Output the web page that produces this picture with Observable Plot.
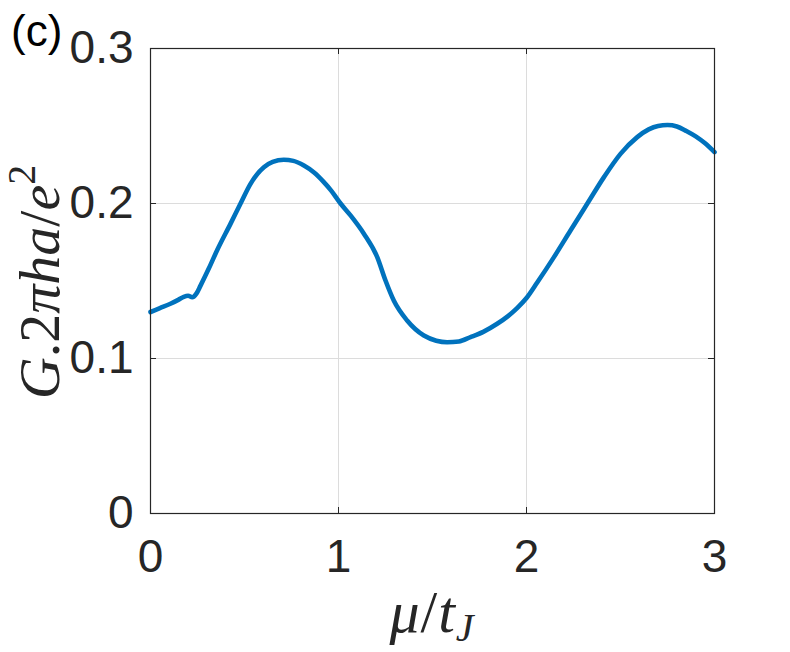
<!DOCTYPE html>
<html>
<head>
<meta charset="utf-8">
<script src="https://cdn.jsdelivr.net/npm/d3@7"></script>
<script src="https://cdn.jsdelivr.net/npm/@observablehq/plot@0.6"></script>
<style>
  html, body { margin: 0; padding: 0; background: #fff; }
  #chart { position: relative; width: 790px; height: 652px; }
</style>
</head>
<body>
<div id="chart"></div>
<script>
// Data (mu/t_J vs G.2πha/e^2)
const mu = [0.00, 0.05, 0.106, 0.15, 0.177, 0.20, 0.222, 0.245, 0.266, 0.31, 0.355, 0.426, 0.479, 0.532, 0.603, 0.65, 0.709, 0.76, 0.816, 0.87, 0.922, 0.96, 1.011, 1.064, 1.135, 1.206, 1.25, 1.294, 1.365, 1.454, 1.52, 1.578, 1.64, 1.702, 1.77, 1.844, 1.90, 1.95, 2.00, 2.057, 2.146, 2.234, 2.323, 2.412, 2.50, 2.589, 2.65, 2.70, 2.75, 2.80, 2.85, 2.90, 2.95, 3.00];
const G  = [0.130, 0.1325, 0.1353, 0.1380, 0.1398, 0.1405, 0.1395, 0.1420, 0.147, 0.158, 0.170, 0.187, 0.200, 0.2127, 0.2234, 0.2268, 0.2282, 0.2275, 0.2245, 0.2200, 0.2138, 0.2085, 0.2000, 0.1923, 0.1805, 0.1654, 0.1503, 0.1374, 0.1245, 0.1148, 0.1115, 0.1105, 0.1110, 0.1138, 0.1172, 0.1224, 0.1272, 0.1325, 0.1390, 0.1490, 0.1654, 0.1826, 0.1998, 0.2170, 0.2320, 0.2428, 0.2478, 0.2500, 0.2506, 0.2497, 0.2468, 0.2433, 0.2388, 0.2331];
const xTicks = [0, 1, 2, 3];
const yTicks = [0, 0.1, 0.2, 0.3];
const yTickLabels = ["0", "0.1", "0.2", "0.3"];
const panelLabel = "(c)";

const data = mu.map((m, i) => ({mu: m, G: G[i]}));

const W = 790, H = 652;
const mL = 150, mR = 76, mT = 48, mB = 139;
const plotH = H - mT - mB;
const plotW = W - mL - mR;
const ink = "#262626";
const tickLen = 6;

const chart = Plot.plot({
  width: W,
  height: H,
  marginLeft: mL,
  marginRight: mR,
  marginTop: mT,
  marginBottom: mB,
  style: {fontFamily: "'Liberation Sans', Arial, sans-serif", fontSize: "46px", color: ink, background: "#fff", overflow: "visible"},
  x: {domain: [0, 3]},
  y: {domain: [0, 0.3]},
  marks: [
    Plot.gridX(xTicks, {stroke: "#dcdcdc", strokeOpacity: 1, strokeWidth: 1}),
    Plot.gridY(yTicks, {stroke: "#dcdcdc", strokeOpacity: 1, strokeWidth: 1}),
    Plot.axisX(xTicks, {tickSize: 0, tickPadding: 26, label: null, fill: ink, fontSize: 46, tickFormat: d => String(d)}),
    Plot.axisY(yTicks, {tickSize: 0, tickPadding: 17, label: null, fill: ink, fontSize: 46, tickFormat: d => yTickLabels[yTicks.indexOf(d)]}),
    // inward ticks (bottom/top, left/right)
    Plot.tickX(xTicks, {x: d => d, stroke: ink, strokeWidth: 1, insetTop: plotH - tickLen}),
    Plot.tickX(xTicks, {x: d => d, stroke: ink, strokeWidth: 1, insetBottom: plotH - tickLen}),
    Plot.tickY(yTicks, {y: d => d, stroke: ink, strokeWidth: 1, insetRight: plotW - tickLen}),
    Plot.tickY(yTicks, {y: d => d, stroke: ink, strokeWidth: 1, insetLeft: plotW - tickLen}),
    Plot.line(data, {x: "mu", y: "G", stroke: "#0072BD", strokeWidth: 4.6, curve: "monotone-x", strokeLinejoin: "round"}),
    Plot.frame({stroke: ink, strokeWidth: 1.2})
  ]
});

document.getElementById("chart").appendChild(chart);

const svg = d3.select(chart);
const serif = "'Liberation Serif', 'Times New Roman', serif";

// panel label
svg.append("text")
  .attr("x", 11).attr("y", 46)
  .attr("text-anchor", "start")
  .attr("font-family", "'Liberation Sans', Arial, sans-serif")
  .attr("font-size", 44)
  .attr("fill", "#000")
  .text(panelLabel);

// y label: G.2πha/e^2
const yl = svg.append("text")
  .attr("transform", "translate(39,282) rotate(-90)")
  .attr("text-anchor", "middle")
  .attr("dominant-baseline", "central")
  .attr("font-family", serif)
  .attr("font-size", 58)
  .attr("fill", ink);
yl.append("tspan").attr("font-style", "italic").text("G");
yl.append("tspan").text(".2");
yl.append("tspan").attr("font-style", "italic").text("πha");
yl.append("tspan").text("/");
yl.append("tspan").attr("font-style", "italic").text("e");
yl.append("tspan").attr("font-size", 40).attr("dy", -18).text("2");

// x label: μ/t_J
const xl = svg.append("text")
  .attr("x", 432).attr("y", 632)
  .attr("text-anchor", "middle")
  .attr("font-family", serif)
  .attr("font-size", 60)
  .attr("letter-spacing", 1)
  .attr("fill", ink);
xl.append("tspan").attr("font-style", "italic").text("μ");
xl.append("tspan").text("/");
xl.append("tspan").attr("font-style", "italic").text("t");
xl.append("tspan").attr("font-style", "italic").attr("font-size", 40).attr("dy", 9).text("J");
</script>
</body>
</html>
